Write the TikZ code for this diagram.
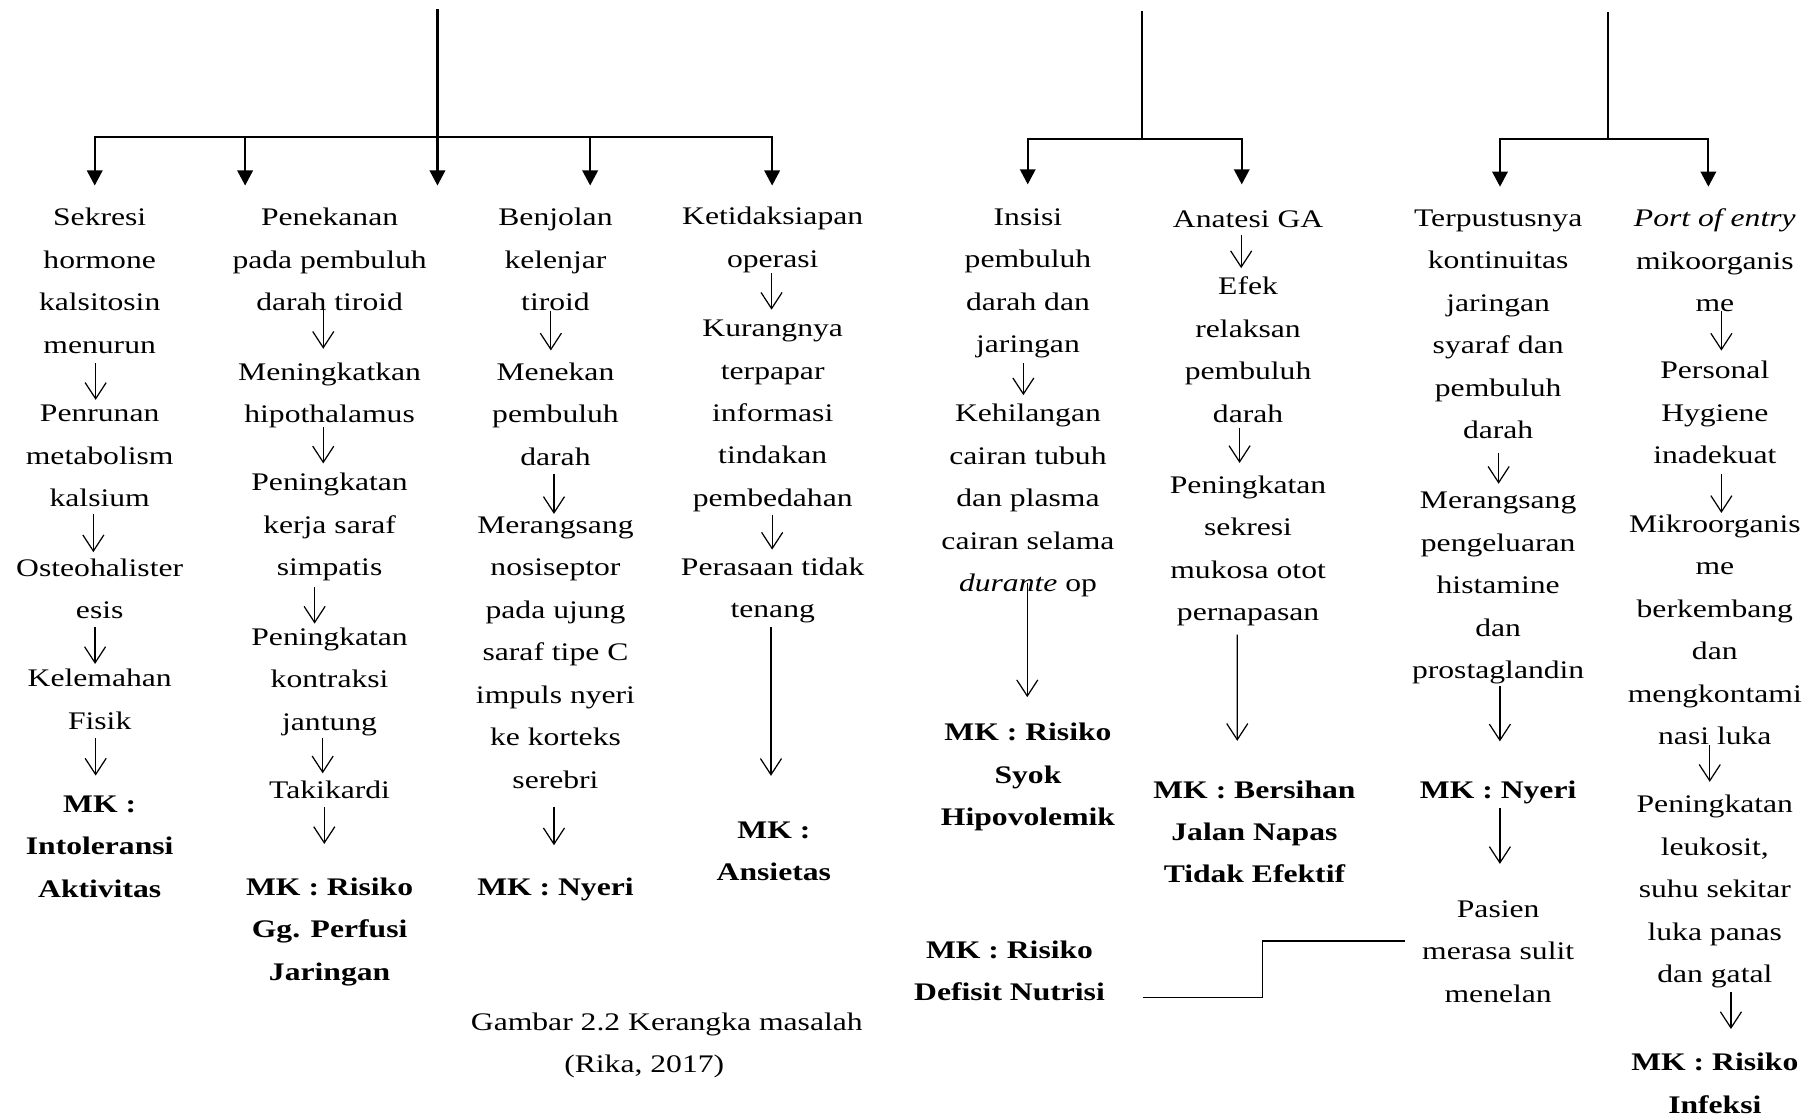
\documentclass[tikz,border=0pt]{standalone}
\usepackage{fontspec}
\setmainfont[FakeStretch=1.25]{Liberation Serif}
\usetikzlibrary{arrows.meta}

\begin{document}
\begin{tikzpicture}[
    x=0.11524mm, y=-0.11524mm,
    stepText/.style={align=center, inner sep=0pt, anchor=base, font=\fontsize{7.2}{12.07}\selectfont, execute at begin node=\strut, execute at end node=\strut},
    mkText/.style={stepText, font=\fontsize{7.2}{12.07}\selectfont\bfseries},
    treeLine/.style={line width=0.6pt, line cap=rect},
    treeArrow/.style={-{Triangle[length=4.3pt,width=4.4pt]}, line width=0.6pt},
    stepArrow/.style={-{Straight Barb[length=4.6pt,width=6pt]}, line width=0.35pt},
    linkLine/.style={line width=0.45pt}
]
    \useasboundingbox (0,0) rectangle (1568,970);

    % Cabang kiri
    \coordinate (rootA) at (379.6,8.7);
    \coordinate (junA) at (379.6,119);
    \foreach \x [count=\i] in {82.2,212.7,379.6,512.1,670} {
        \coordinate (bA\i) at (\x,119);
        \coordinate (tA\i) at (\x,161);
    }
    \draw[treeLine] (rootA) -- (junA);
    \draw[treeLine] (bA1) -- (bA5);
    \foreach \i in {1,...,5} \draw[treeArrow] (bA\i) -- (tA\i);

    % Cabang tengah
    \coordinate (rootB) at (990.7,10.8);
    \coordinate (junB) at (990.7,121);
    \foreach \x [count=\i] in {891.8,1077.5} {
        \coordinate (bB\i) at (\x,121);
        \coordinate (tB\i) at (\x,160);
    }
    \draw[treeLine] (rootB) -- (junB);
    \draw[treeLine] (bB1) -- (bB2);
    \foreach \i in {1,2} \draw[treeArrow] (bB\i) -- (tB\i);

    % Cabang kanan
    \coordinate (rootC) at (1395.4,11);
    \coordinate (junC) at (1395.4,120.6);
    \foreach \x [count=\i] in {1301.6,1482.4} {
        \coordinate (bC\i) at (\x,120.6);
        \coordinate (tC\i) at (\x,162);
    }
    \draw[treeLine] (rootC) -- (junC);
    \draw[treeLine] (bC1) -- (bC2);
    \foreach \i in {1,2} \draw[treeArrow] (bC\i) -- (tC\i);

    % Kolom 1 (posisi = baris terakhir)
    \node[stepText] (c1a) at (86.5,306.4) {Sekresi\\hormone\\kalsitosin\\menurun};
    \node[stepText] (c1b) at (86.5,439.6) {Penrunan\\metabolism\\kalsium};
    \node[stepText] (c1c) at (86.5,536.8) {Osteohalister\\esis};
    \node[stepText] (c1d) at (86.5,632.8) {Kelemahan\\Fisik};
    \node[mkText] (mk1) at (86.5,778.6) {MK :\\Intoleransi\\Aktivitas};
    \draw[stepArrow] ([shift={(-3.5,-3)}]c1a.south) -- ([shift={(-3.5,-4)}]c1b.north);
    \draw[stepArrow] ([shift={(-5.5,-5.2)}]c1b.south) -- ([shift={(-5.5,-5)}]c1c.north);
    \draw[stepArrow] ([shift={(-4,-4)}]c1c.south) -- ([shift={(-4,-4)}]c1d.north);
    \draw[stepArrow] ([shift={(-3.5,-4)}]c1d.south) -- ([shift={(-3.5,-17)}]mk1.north);

    % Kolom 2
    \node[stepText] (c2a) at (286,269.6) {Penekanan\\pada pembuluh\\darah tiroid};
    \node[stepText] (c2b) at (286,366.8) {Meningkatkan\\hipothalamus};
    \node[stepText] (c2c) at (286,499.6) {Peningkatan\\kerja saraf\\simpatis};
    \node[stepText] (c2d) at (286,633.6) {Peningkatan\\kontraksi\\jantung};
    \node[stepText] (c2e) at (286,693) {Takikardi};
    \node[mkText] (mk2) at (286,850.6) {MK : Risiko\\Gg. Perfusi\\Jaringan};
    \draw[stepArrow] ([shift={(-5.5,-15.6)}]c2a.south) -- ([shift={(-5.5,-11.5)}]c2b.north);
    \draw[stepArrow] ([shift={(-5.5,-8)}]c2b.south) -- ([shift={(-5.5,-8)}]c2c.north);
    \draw[stepArrow] ([shift={(-13,-2)}]c2c.south) -- ([shift={(-13,-3)}]c2d.north);
    \draw[stepArrow] ([shift={(-6,-5)}]c2d.south) -- ([shift={(-6,4.4)}]c2e.north);
    \draw[stepArrow] ([shift={(-4.6,-4.5)}]c2e.south) -- ([shift={(-4.6,-28.8)}]mk2.north);

    % Kolom 3
    \node[stepText] (c3a) at (482,269.6) {Benjolan\\kelenjar\\tiroid};
    \node[stepText] (c3b) at (482,403.6) {Menekan\\pembuluh\\darah};
    \node[stepText] (c3c) at (482,683.8) {Merangsang\\nosiseptor\\pada ujung\\saraf tipe C\\impuls nyeri\\ke korteks\\serebri};
    \node[mkText] (mk3) at (482,777) {MK : Nyeri};
    \draw[stepArrow] ([shift={(-4,-11)}]c3a.south) -- ([shift={(-4,-10)}]c3b.north);
    \draw[stepArrow] ([shift={(-1.3,-4)}]c3b.south) -- ([shift={(-1.3,-2)}]c3c.north);
    \draw[stepArrow] ([shift={(-1.3,4.7)}]c3c.south) -- ([shift={(-1.3,-17.2)}]mk3.north);

    % Kolom 4
    \node[stepText] (c4a) at (670.5,232) {Ketidaksiapan\\operasi};
    \node[stepText] (c4b) at (670.5,439.4) {Kurangnya\\terpapar\\informasi\\tindakan\\pembedahan};
    \node[stepText] (c4c) at (670.5,535.8) {Perasaan tidak\\tenang};
    \node[mkText] (mk4) at (671.5,764.4) {MK :\\Ansietas};
    \draw[stepArrow] ([shift={(-1,-6.4)}]c4a.south) -- ([shift={(-1,-8.4)}]c4b.north);
    \draw[stepArrow] ([shift={(-0.5,-4.4)}]c4b.south) -- ([shift={(-0.5,-6.2)}]c4c.north);
    \draw[stepArrow] ([shift={(-1.5,-3)}]c4c.south) -- ([shift={(-2.5,-39.4)}]mk4.north);

    % Keterangan gambar
    \node[stepText] (cap1) at (578.6,894) {Gambar 2.2 Kerangka masalah};
    \node[stepText] (cap2) at (559,930.8) {(Rika, 2017)};

    % Kolom 5
    \node[stepText] (c5a) at (892,305.9) {Insisi\\pembuluh\\darah dan\\jaringan};
    \node[stepText] (c5b) at (892,513.2) {Kehilangan\\cairan tubuh\\dan plasma\\cairan selama\\\textit{durante} op};
    \node[mkText] (mk5) at (892,716.6) {MK : Risiko\\Syok\\Hipovolemik};
    \draw[stepArrow] ([shift={(-4,-2.3)}]c5a.south) -- ([shift={(-4,-7.2)}]c5b.north);
    \draw[stepArrow] ([shift={(-0.6,-18.8)}]c5b.south) -- ([shift={(-0.6,-22.2)}]mk5.north);

    % Kolom 6
    \node[stepText] (c6a) at (1083,197) {Anatesi GA};
    \node[stepText] (c6b) at (1083,366.4) {Efek\\relaksan\\pembuluh\\darah};
    \node[stepText] (c6c) at (1083,538.4) {Peningkatan\\sekresi\\mukosa otot\\pernapasan};
    \node[mkText] (mk6) at (1088.5,766.1) {MK : Bersihan\\Jalan Napas\\Tidak Efektif};
    \draw[stepArrow] ([shift={(-6,-5)}]c6a.south) -- ([shift={(-6,-7.2)}]c6b.north);
    \draw[stepArrow] ([shift={(-7.4,-7)}]c6b.south) -- ([shift={(-7.4,-10.4)}]c6c.north);
    \draw[stepArrow] ([shift={(-9.4,0.6)}]c6c.south) -- ([shift={(-14.9,-33.8)}]mk6.north);

    % Kolom 7
    \node[stepText] (c7a) at (1300,380.5) {Terpustusnya\\kontinuitas\\jaringan\\syaraf dan\\pembuluh\\darah};
    \node[stepText] (c7b) at (1300,588.7) {Merangsang\\pengeluaran\\histamine\\dan\\prostaglandin};
    \node[mkText] (mk7) at (1300,692.5) {MK : Nyeri};
    \node[stepText] (c7c) at (1300,869.6) {Pasien\\merasa sulit\\menelan};
    \draw[stepArrow] ([shift={(0.4,0.5)}]c7a.south) -- ([shift={(0.4,-6.7)}]c7b.north);
    \draw[stepArrow] ([shift={(1.5,-4.7)}]c7b.south) -- ([shift={(1.5,-22.8)}]mk7.north);
    \draw[stepArrow] ([shift={(1.5,-3)}]mk7.south) -- ([shift={(1.5,-31.2)}]c7c.north);

    \node[mkText] (mkN) at (876,868.3) {MK : Risiko\\Defisit Nutrisi};
    \draw[linkLine] ([shift={(32.1,17.6)}]mkN.east) -- ++(104.1,0) |- ([shift={(-14.3,-14.3)}]c7c.west);

    % Kolom 8
    \node[stepText] (c8a) at (1488,270.6) {\textit{Port of entry}\\mikoorganis\\me};
    \node[stepText] (c8b) at (1488,402.3) {Personal\\Hygiene\\inadekuat};
    \node[stepText] (c8c) at (1488,646) {Mikroorganis\\me\\berkembang\\dan\\mengkontami\\nasi luka};
    \node[stepText] (c8d) at (1488,852.5) {Peningkatan\\leukosit,\\suhu sekitar\\luka panas\\dan gatal};
    \node[mkText] (mk8) at (1488,965.8) {MK : Risiko\\Infeksi};
    \draw[stepArrow] ([shift={(5.7,-12)}]c8a.south) -- ([shift={(5.7,-8.6)}]c8b.north);
    \draw[stepArrow] ([shift={(5.7,-2.7)}]c8b.south) -- ([shift={(5.7,-1)}]c8c.north);
    \draw[stepArrow] ([shift={(-4.4,-11)}]c8c.south) -- ([shift={(-4.4,-11)}]c8d.north);
    \draw[stepArrow] ([shift={(14,-3)}]c8d.south) -- ([shift={(14,-20.2)}]mk8.north);
\end{tikzpicture}
\end{document}
